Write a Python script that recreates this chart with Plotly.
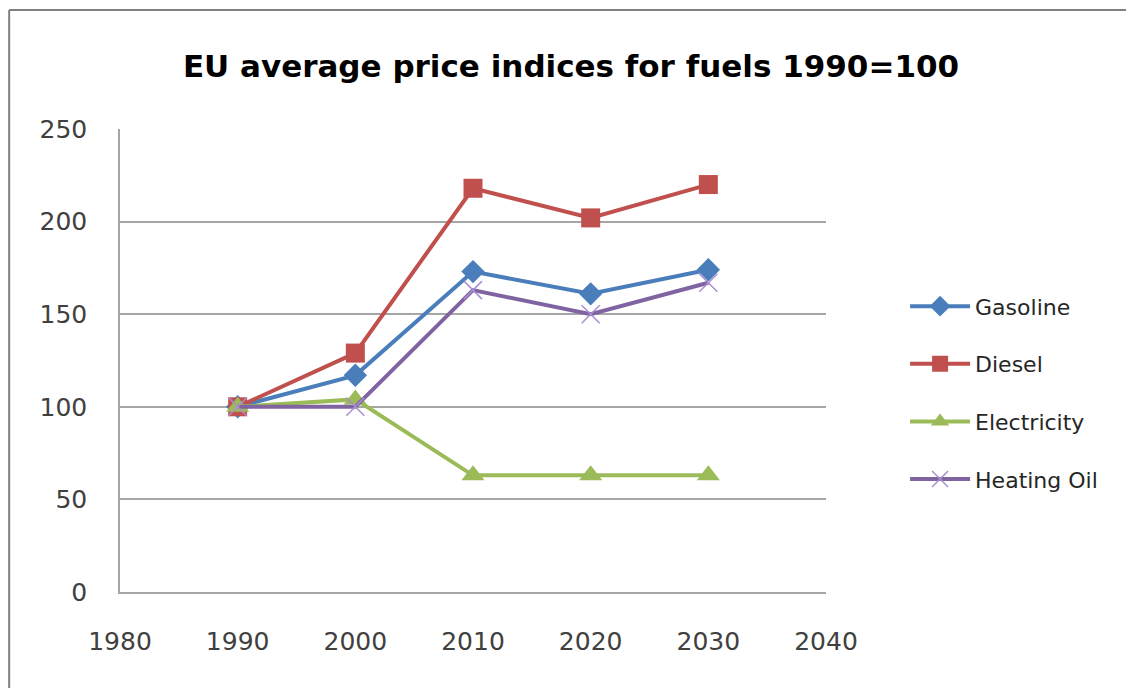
import plotly.graph_objects as go

years = [1990, 2000, 2010, 2020, 2030]
gasoline = [100, 117, 173, 161, 174]
diesel = [100, 129, 218, 202, 220]
electricity = [100, 104, 63, 63, 63]
heating_oil = [100, 100, 163, 150, 167]

series = [
    ("Gasoline", gasoline, "#4A7EBB", "diamond", 18, None),
    ("Diesel", diesel, "#C0504D", "square", 19, None),
    ("Electricity", electricity, "#9BBB59", "triangle-up", 20, None),
    ("Heating Oil", heating_oil, "#8064A2", "x-thin", 18, "#A98FD0"),
]

FONT = "DejaVu Sans, sans-serif"

fig = go.Figure()
for name, vals, color, sym, size, mcol in series:
    marker = dict(symbol=sym, size=size, color=color)
    if sym == "x-thin":
        marker = dict(symbol=sym, size=size, line=dict(color=mcol, width=1.5))
    fig.add_trace(go.Scatter(
        x=years, y=vals, name=name, mode="lines+markers", legendgroup=name,
        line=dict(color=color, width=4), marker=marker,
    ))

frame = dict(color="#808080", width=2)

fig.update_layout(
    width=1126, height=680,
    margin=dict(l=112, r=308, t=121, b=96),
    paper_bgcolor="white", plot_bgcolor="white",
    font=dict(family=FONT, color="#404040"),
    title=dict(text="<b>EU average price indices for fuels 1990=100</b>",
               x=0.5, xanchor="center", y=0.915, yanchor="middle",
               font=dict(size=31, color="black", family=FONT)),
    showlegend=True,
    legend=dict(x=1.112, y=0.43, xanchor="left", yanchor="middle",
                font=dict(size=22, color="#262626"), traceorder="grouped",
                tracegroupgap=26, itemwidth=60, bgcolor="rgba(0,0,0,0)"),
    xaxis=dict(range=[1980, 2040], tickmode="array",
               tickvals=[1980, 1990, 2000, 2010, 2020, 2030, 2040],
               showgrid=False, zeroline=False, showline=True,
               linecolor="#A6A6A6", linewidth=1.5, ticks="",
               ticklabelstandoff=26,
               tickfont=dict(size=25, color="#404040")),
    yaxis=dict(range=[0, 250], tickmode="array",
               tickvals=[0, 50, 100, 150, 200, 250],
               showgrid=True, gridcolor="#A6A6A6", gridwidth=1.5,
               zeroline=False, showline=True, linecolor="#A6A6A6",
               linewidth=1.5, ticks="", ticklabelstandoff=26,
               tickfont=dict(size=25, color="#404040")),
    shapes=[
        dict(type="line", xref="paper", yref="paper",
             x0=-0.157, x1=1.45, y0=1.257, y1=1.257, line=frame),
        dict(type="line", xref="paper", yref="paper",
             x0=-0.157, x1=-0.157, y0=-0.25, y1=1.257, line=frame),
    ],
)

fig.write_html("out.html")
